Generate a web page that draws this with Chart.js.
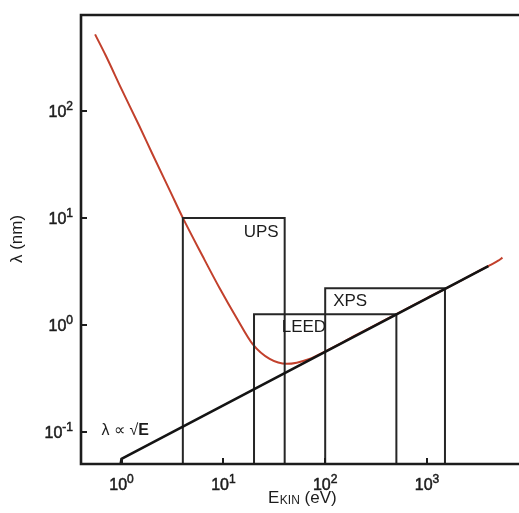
<!DOCTYPE html>
<html>
<head>
<meta charset="utf-8">
<script src="https://cdn.jsdelivr.net/npm/chart.js@4/dist/chart.umd.min.js"></script>
<style>
  html, body { margin: 0; padding: 0; background: #fff; overflow: hidden; }
  canvas { display: block; }
</style>
</head>
<body>
<canvas id="c" width="519" height="513"></canvas>
<script>
// Electron wavelength / mean free path versus kinetic energy (log-log)
const energyCurve = [0.55, 0.7, 1, 1.5, 2, 3, 4, 6.25, 9.2, 13.5, 19.4, 28.5, 42, 70, 100, 150, 200, 300, 500, 1000, 2000, 3000, 4000, 5000, 5500];
const lambdaCurve = [520, 330, 160, 72, 40, 17.8, 10, 4.4, 2.2, 1.16, 0.66, 0.48, 0.432, 0.48, 0.565, 0.69, 0.8, 0.98, 1.26, 1.78, 2.5, 3.08, 3.55, 3.98, 4.25];

// square-root reference line
const energySqrt = [0.98, 1, 4000];
const lambdaSqrt = [0.05, 0.056, 3.54];

// technique windows: [E low, E high, λ top]
const upsWindow = [4, 40, 10];
const leedWindow = [20, 500, 1.26];
const xpsWindow = [100, 1500, 2.2];

const xTicks = [1, 10, 100, 1000];
const xTickExp = ['0', '1', '2', '3'];
const yTicks = [0.1, 1, 10, 100];
const yTickExp = ['-1', '0', '1', '2'];

const xRange = [0.4, 8000];
const yRange = [0.05, 790];

const FONT = '"Liberation Sans", Arial, Helvetica, sans-serif';
const INK = '#1c1c1c';

function pts(xs, ys) { return xs.map((x, i) => ({ x, y: ys[i] })); }
function windowPts(w) {
  return [{ x: w[0], y: yRange[0] }, { x: w[0], y: w[2] }, { x: w[1], y: w[2] }, { x: w[1], y: yRange[0] }];
}

const frameAndText = {
  id: 'frameAndText',
  afterDraw(chart) {
    const ctx = chart.ctx;
    const a = chart.chartArea;
    const xs = chart.scales.x, ys = chart.scales.y;
    ctx.save();
    ctx.strokeStyle = INK;
    ctx.fillStyle = INK;
    ctx.lineWidth = 2.6;
    ctx.lineCap = 'square';
    // frame: left, top, bottom
    ctx.beginPath();
    ctx.moveTo(a.right + 5, a.top);
    ctx.lineTo(a.left, a.top);
    ctx.lineTo(a.left, a.bottom);
    ctx.lineTo(a.right + 5, a.bottom);
    ctx.stroke();

    // inward ticks
    ctx.lineWidth = 2;
    ctx.lineCap = 'butt';
    xTicks.forEach(v => {
      const px = Math.round(xs.getPixelForValue(v));
      ctx.beginPath(); ctx.moveTo(px, a.bottom); ctx.lineTo(px, a.bottom - 6); ctx.stroke();
    });
    yTicks.forEach(v => {
      const py = Math.round(ys.getPixelForValue(v));
      ctx.beginPath(); ctx.moveTo(a.left, py); ctx.lineTo(a.left + 6, py); ctx.stroke();
    });

    // tick labels 10^n, slightly heavier than body text
    function heavy(text, x, y) {
      ctx.lineWidth = 0.5;
      ctx.strokeText(text, x, y);
      ctx.fillText(text, x, y);
    }
    function power(exp, x, y, align) {
      ctx.textBaseline = 'alphabetic';
      ctx.textAlign = 'left';
      ctx.font = '16px ' + FONT;
      const wb = ctx.measureText('10').width;
      ctx.font = '12px ' + FONT;
      const we = ctx.measureText(exp).width;
      const x0 = align === 'right' ? x - wb - we : x - (wb + we) / 2;
      ctx.font = '16px ' + FONT;
      heavy('10', x0, y);
      ctx.font = '12px ' + FONT;
      heavy(exp, x0 + wb, y - 7);
    }
    yTicks.forEach((v, i) => power(yTickExp[i], a.left - 8, ys.getPixelForValue(v) + 6, 'right'));
    xTicks.forEach((v, i) => power(xTickExp[i], xs.getPixelForValue(v), a.bottom + 26, 'center'));

    // axis titles
    ctx.font = '17px ' + FONT;
    ctx.textBaseline = 'middle';
    ctx.textAlign = 'center';
    ctx.save();
    ctx.translate(17, 239);
    ctx.rotate(-Math.PI / 2);
    ctx.fillText('λ (nm)', 0, 0);
    ctx.restore();

    const tx = 268, ty = 498;
    ctx.textAlign = 'left';
    ctx.font = '17px ' + FONT;
    ctx.fillText('E', tx, ty);
    let cx = tx + ctx.measureText('E').width;
    ctx.font = '12px ' + FONT;
    ctx.fillText('KIN', cx + 0.5, ty + 3);
    cx += ctx.measureText('KIN').width + 0.5;
    ctx.font = '17px ' + FONT;
    ctx.fillText(' (eV)', cx, ty);

    // window labels
    ctx.font = '17px ' + FONT;
    ctx.textBaseline = 'middle';
    ctx.textAlign = 'right';
    ctx.fillText('UPS', xs.getPixelForValue(upsWindow[1]) - 6, ys.getPixelForValue(upsWindow[2]) + 14);
    ctx.textAlign = 'left';
    ctx.fillText('LEED', xs.getPixelForValue(upsWindow[1]) - 3, ys.getPixelForValue(leedWindow[2]) + 13);
    ctx.fillText('XPS', xs.getPixelForValue(xpsWindow[0]) + 8, ys.getPixelForValue(xpsWindow[2]) + 13);

    // λ ∝ √E
    const lx = xs.getPixelForValue(1) - 20, ly = ys.getPixelForValue(0.1) - 1;
    ctx.font = '16px ' + FONT;
    ctx.fillText('λ ∝ √', lx, ly);
    const lw = ctx.measureText('λ ∝ √').width;
    ctx.font = 'bold 16px ' + FONT;
    ctx.fillText('E', lx + lw, ly);
    ctx.restore();
  }
};

const boxStyle = { borderColor: '#262626', borderWidth: 2, pointRadius: 0, fill: false, tension: 0 };

new Chart(document.getElementById('c'), {
  type: 'line',
  data: {
    datasets: [
      Object.assign({ label: 'UPS', data: windowPts(upsWindow), order: 2 }, boxStyle),
      Object.assign({ label: 'LEED', data: windowPts(leedWindow), order: 2 }, boxStyle),
      Object.assign({ label: 'XPS', data: windowPts(xpsWindow), order: 2 }, boxStyle),
      { label: 'λ ∝ √E', data: pts(energySqrt, lambdaSqrt), borderColor: '#141414', borderWidth: 2.6, pointRadius: 0, tension: 0, order: 1 },
      { label: 'curve', data: pts(energyCurve, lambdaCurve), borderColor: '#c2402c', borderWidth: 2, pointRadius: 0, cubicInterpolationMode: 'monotone', order: 3 }
    ]
  },
  options: {
    responsive: false,
    devicePixelRatio: 1,
    animation: false,
    layout: { padding: { left: 81, top: 15, right: 0, bottom: 49 } },
    plugins: { legend: { display: false }, tooltip: { enabled: false } },
    scales: {
      x: { type: 'logarithmic', min: xRange[0], max: xRange[1], display: false },
      y: { type: 'logarithmic', min: yRange[0], max: yRange[1], display: false }
    }
  },
  plugins: [frameAndText]
});
</script>
</body>
</html>
